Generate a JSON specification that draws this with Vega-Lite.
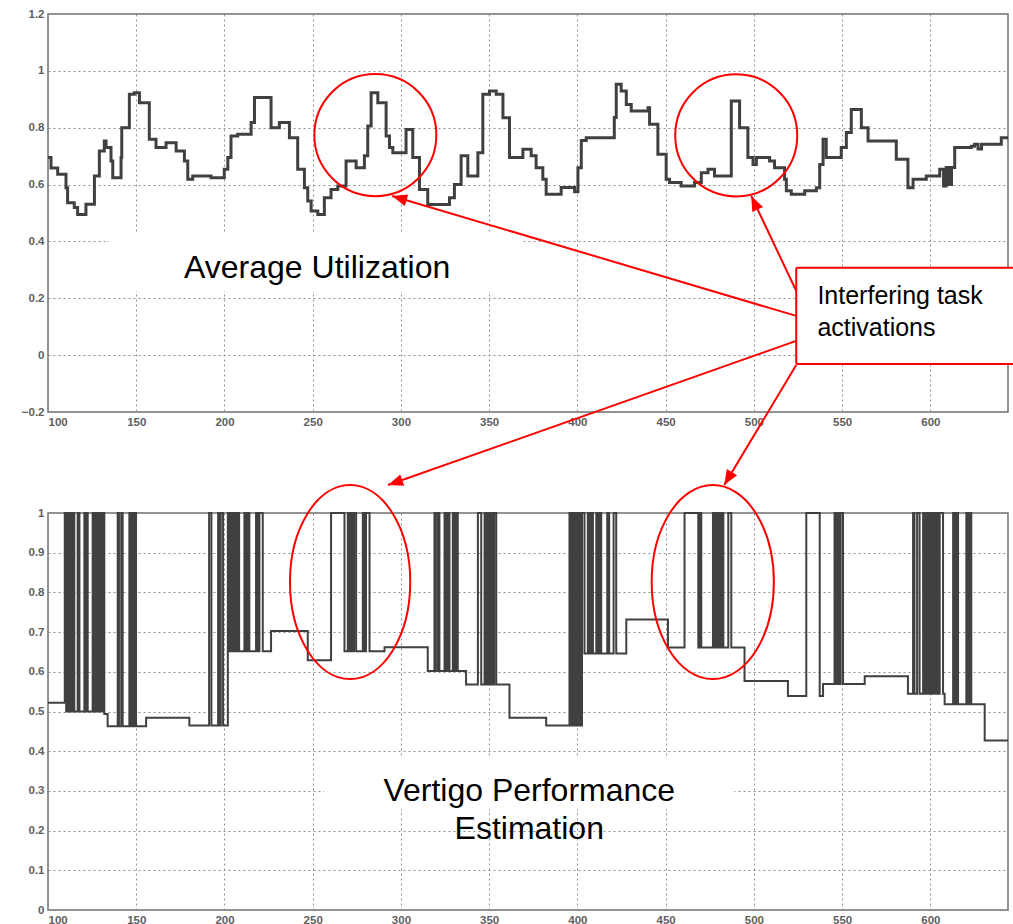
{
  "$schema": "https://vega.github.io/schema/vega-lite/v6.json",
  "background": "white",
  "padding": {"left": 20, "top": 7, "right": 0, "bottom": 0},
  "bounds": "flush",
  "spacing": 101,
  "config": {
    "view": {"stroke": "#707070", "strokeWidth": 1.5},
    "axis": {
      "grid": true,
      "gridColor": "#8f8f8f",
      "gridDash": [2, 3],
      "gridWidth": 1,
      "domain": false,
      "ticks": false,
      "labelPadding": 4,
      "labelOverlap": false,
      "labelFont": "Liberation Sans",
      "labelFontWeight": "bold",
      "labelFontSize": 11.5,
      "labelColor": "#5e5e5e",
      "title": null
    }
  },
  "datasets": {
    "utilization": [
      {"t": 100, "u": 0.695}, {"t": 101.7, "u": 0.658}, {"t": 105.5, "u": 0.636}, {"t": 110.2, "u": 0.589},
      {"t": 111.1, "u": 0.536}, {"t": 114.9, "u": 0.519}, {"t": 116.8, "u": 0.495}, {"t": 121.5, "u": 0.531},
      {"t": 126.3, "u": 0.63}, {"t": 129.1, "u": 0.718}, {"t": 131.9, "u": 0.753}, {"t": 132.9, "u": 0.73},
      {"t": 135.7, "u": 0.683}, {"t": 136.7, "u": 0.624}, {"t": 141.4, "u": 0.695}, {"t": 141.8, "u": 0.8},
      {"t": 146.1, "u": 0.918}, {"t": 148.9, "u": 0.923}, {"t": 151.8, "u": 0.888}, {"t": 157.4, "u": 0.759},
      {"t": 161.2, "u": 0.73}, {"t": 166.9, "u": 0.747}, {"t": 172.6, "u": 0.718}, {"t": 177.3, "u": 0.683},
      {"t": 179.2, "u": 0.619}, {"t": 182.0, "u": 0.63}, {"t": 192.4, "u": 0.624}, {"t": 199.9, "u": 0.654},
      {"t": 201.9, "u": 0.695}, {"t": 203.7, "u": 0.771}, {"t": 207.5, "u": 0.777}, {"t": 215.1, "u": 0.818},
      {"t": 217.0, "u": 0.906}, {"t": 226.4, "u": 0.8}, {"t": 231.1, "u": 0.818}, {"t": 236.8, "u": 0.765},
      {"t": 241.5, "u": 0.654}, {"t": 245.3, "u": 0.589}, {"t": 247.2, "u": 0.542}, {"t": 249.1, "u": 0.507},
      {"t": 252.9, "u": 0.495}, {"t": 256.6, "u": 0.554}, {"t": 260.4, "u": 0.583}, {"t": 264.2, "u": 0.595},
      {"t": 268.9, "u": 0.683}, {"t": 274.6, "u": 0.659}, {"t": 279.3, "u": 0.701}, {"t": 281.2, "u": 0.806},
      {"t": 283.1, "u": 0.923}, {"t": 286.9, "u": 0.888}, {"t": 291.6, "u": 0.771}, {"t": 293.5, "u": 0.73},
      {"t": 295.4, "u": 0.712}, {"t": 302.9, "u": 0.794}, {"t": 306.7, "u": 0.695}, {"t": 310.5, "u": 0.583},
      {"t": 315.2, "u": 0.53}, {"t": 327.5, "u": 0.554}, {"t": 330.3, "u": 0.6}, {"t": 334.1, "u": 0.701},
      {"t": 337.9, "u": 0.63}, {"t": 343.6, "u": 0.712}, {"t": 346.4, "u": 0.918}, {"t": 350.2, "u": 0.929},
      {"t": 354.0, "u": 0.918}, {"t": 357.8, "u": 0.835}, {"t": 361.5, "u": 0.695}, {"t": 369.1, "u": 0.724},
      {"t": 373.8, "u": 0.701}, {"t": 376.6, "u": 0.659}, {"t": 380.4, "u": 0.619}, {"t": 382.3, "u": 0.566},
      {"t": 390.8, "u": 0.59}, {"t": 398.4, "u": 0.575}, {"t": 400.3, "u": 0.659}, {"t": 402.2, "u": 0.755},
      {"t": 405.0, "u": 0.765}, {"t": 420.9, "u": 0.836}, {"t": 422.0, "u": 0.953}, {"t": 424.8, "u": 0.929},
      {"t": 427.7, "u": 0.882}, {"t": 430.5, "u": 0.859}, {"t": 440.0, "u": 0.87}, {"t": 440.9, "u": 0.812},
      {"t": 445.6, "u": 0.707}, {"t": 450.3, "u": 0.619}, {"t": 452.2, "u": 0.607}, {"t": 458.8, "u": 0.595},
      {"t": 466.4, "u": 0.607}, {"t": 470.2, "u": 0.642}, {"t": 474.0, "u": 0.654}, {"t": 477.7, "u": 0.63},
      {"t": 487.2, "u": 0.894}, {"t": 491.9, "u": 0.8}, {"t": 496.6, "u": 0.695}, {"t": 499.5, "u": 0.671},
      {"t": 501.4, "u": 0.695}, {"t": 508.9, "u": 0.683}, {"t": 511.7, "u": 0.659}, {"t": 517.4, "u": 0.619},
      {"t": 518.4, "u": 0.578}, {"t": 521.2, "u": 0.566}, {"t": 528.8, "u": 0.578}, {"t": 535.4, "u": 0.589},
      {"t": 537.3, "u": 0.671}, {"t": 539.2, "u": 0.759}, {"t": 541.0, "u": 0.695}, {"t": 549.5, "u": 0.73},
      {"t": 552.4, "u": 0.783}, {"t": 555.2, "u": 0.864}, {"t": 560.9, "u": 0.8}, {"t": 564.7, "u": 0.753},
      {"t": 580.7, "u": 0.689}, {"t": 587.3, "u": 0.589}, {"t": 590.2, "u": 0.619}, {"t": 597.7, "u": 0.63},
      {"t": 605.3, "u": 0.654}, {"t": 607.5, "u": 0.595}, {"t": 609.0, "u": 0.66}, {"t": 610.5, "u": 0.6},
      {"t": 612.0, "u": 0.66}, {"t": 613.8, "u": 0.73}, {"t": 623.2, "u": 0.735}, {"t": 625.0, "u": 0.742},
      {"t": 627.0, "u": 0.725}, {"t": 629.0, "u": 0.742}, {"t": 640.2, "u": 0.765}, {"t": 644, "u": 0.765}
    ],
    "vertigo": [
      {"t": 100, "v": 0.522},
      {"t": 109.5, "v": 1}, {"t": 110.3, "v": 0.5}, {"t": 111.0, "v": 1}, {"t": 111.6, "v": 0.5},
      {"t": 112.3, "v": 1}, {"t": 113.0, "v": 0.5}, {"t": 113.8, "v": 1}, {"t": 114.9, "v": 0.5},
      {"t": 116.8, "v": 1}, {"t": 117.8, "v": 0.5},
      {"t": 120.6, "v": 1}, {"t": 121.2, "v": 0.5}, {"t": 121.8, "v": 1}, {"t": 122.5, "v": 0.5},
      {"t": 125.3, "v": 1}, {"t": 126.0, "v": 0.5}, {"t": 126.6, "v": 1}, {"t": 127.4, "v": 0.5},
      {"t": 128.0, "v": 1}, {"t": 128.8, "v": 0.5}, {"t": 129.4, "v": 1}, {"t": 130.2, "v": 0.5},
      {"t": 130.8, "v": 1}, {"t": 131.9, "v": 0.494},
      {"t": 133.8, "v": 0.463},
      {"t": 139.5, "v": 1}, {"t": 140.2, "v": 0.463}, {"t": 141.5, "v": 1}, {"t": 142.3, "v": 0.463},
      {"t": 146.1, "v": 1}, {"t": 146.8, "v": 0.463}, {"t": 147.4, "v": 1}, {"t": 148.2, "v": 0.463},
      {"t": 148.8, "v": 1}, {"t": 149.9, "v": 0.463},
      {"t": 155.6, "v": 0.484},
      {"t": 180.1, "v": 0.465},
      {"t": 191.3, "v": 1}, {"t": 192.6, "v": 0.465},
      {"t": 196.4, "v": 1}, {"t": 197.2, "v": 0.465}, {"t": 197.9, "v": 1}, {"t": 199.2, "v": 0.465},
      {"t": 201.9, "v": 1}, {"t": 202.8, "v": 0.652}, {"t": 203.6, "v": 1}, {"t": 204.5, "v": 0.652},
      {"t": 205.6, "v": 1}, {"t": 206.5, "v": 0.652}, {"t": 207.3, "v": 1}, {"t": 208.3, "v": 0.652},
      {"t": 211.3, "v": 1}, {"t": 212.2, "v": 0.652}, {"t": 213.0, "v": 1}, {"t": 214.1, "v": 0.652},
      {"t": 217.9, "v": 1}, {"t": 218.8, "v": 0.652}, {"t": 219.8, "v": 1}, {"t": 221.7, "v": 0.652},
      {"t": 226.4, "v": 0.703},
      {"t": 247.2, "v": 0.629},
      {"t": 260.4, "v": 1}, {"t": 268.0, "v": 0.652},
      {"t": 269.9, "v": 1}, {"t": 270.8, "v": 0.652}, {"t": 271.6, "v": 1}, {"t": 272.5, "v": 0.652},
      {"t": 273.4, "v": 1}, {"t": 274.6, "v": 0.652}, {"t": 278.4, "v": 1}, {"t": 279.4, "v": 0.652},
      {"t": 280.2, "v": 1}, {"t": 282.2, "v": 0.652},
      {"t": 290.7, "v": 0.662},
      {"t": 315.2, "v": 0.602},
      {"t": 319.0, "v": 1}, {"t": 319.8, "v": 0.602}, {"t": 321.0, "v": 1}, {"t": 321.8, "v": 0.602},
      {"t": 324.7, "v": 1}, {"t": 325.5, "v": 0.602}, {"t": 326.6, "v": 1}, {"t": 327.5, "v": 0.602},
      {"t": 329.4, "v": 1}, {"t": 330.2, "v": 0.602}, {"t": 331.2, "v": 1}, {"t": 332.2, "v": 0.602},
      {"t": 336.9, "v": 0.568},
      {"t": 343.6, "v": 1}, {"t": 345.5, "v": 0.568}, {"t": 347.4, "v": 1}, {"t": 348.5, "v": 0.568},
      {"t": 349.2, "v": 1}, {"t": 350.3, "v": 0.568}, {"t": 351.0, "v": 1}, {"t": 352.0, "v": 0.568},
      {"t": 352.8, "v": 1}, {"t": 354.0, "v": 0.568},
      {"t": 361.5, "v": 0.484},
      {"t": 382.3, "v": 0.465},
      {"t": 395.5, "v": 1}, {"t": 396.5, "v": 0.465}, {"t": 397.2, "v": 1}, {"t": 398.2, "v": 0.465},
      {"t": 398.9, "v": 1}, {"t": 400.0, "v": 0.465}, {"t": 400.8, "v": 1}, {"t": 401.8, "v": 0.465},
      {"t": 402.6, "v": 1}, {"t": 404.0, "v": 0.646},
      {"t": 405.9, "v": 1}, {"t": 407.0, "v": 0.646}, {"t": 408.0, "v": 1}, {"t": 408.8, "v": 0.646},
      {"t": 410.7, "v": 1}, {"t": 411.5, "v": 0.646}, {"t": 412.5, "v": 1}, {"t": 413.5, "v": 0.646},
      {"t": 416.9, "v": 1}, {"t": 418.0, "v": 0.646}, {"t": 420.5, "v": 1}, {"t": 422.0, "v": 0.646},
      {"t": 427.7, "v": 0.732},
      {"t": 451.3, "v": 0.661},
      {"t": 460.7, "v": 1}, {"t": 468.5, "v": 0.661}, {"t": 469.4, "v": 1}, {"t": 470.2, "v": 0.661},
      {"t": 476.8, "v": 1}, {"t": 477.6, "v": 0.661}, {"t": 478.4, "v": 1}, {"t": 479.2, "v": 0.661},
      {"t": 480.0, "v": 1}, {"t": 480.8, "v": 0.661}, {"t": 481.6, "v": 1}, {"t": 482.7, "v": 0.661},
      {"t": 485.5, "v": 1}, {"t": 487.2, "v": 0.661},
      {"t": 494.7, "v": 0.577},
      {"t": 519.3, "v": 0.539},
      {"t": 529.7, "v": 1}, {"t": 537.3, "v": 0.539},
      {"t": 539.2, "v": 0.569},
      {"t": 545.7, "v": 1}, {"t": 546.6, "v": 0.569}, {"t": 547.3, "v": 1}, {"t": 548.3, "v": 0.569},
      {"t": 549.2, "v": 1}, {"t": 550.5, "v": 0.569},
      {"t": 562.8, "v": 0.589},
      {"t": 587.3, "v": 0.545},
      {"t": 590.2, "v": 1}, {"t": 591.0, "v": 0.545}, {"t": 592.5, "v": 1}, {"t": 593.9, "v": 0.545},
      {"t": 595.9, "v": 1}, {"t": 596.8, "v": 0.545}, {"t": 597.7, "v": 1}, {"t": 598.6, "v": 0.545},
      {"t": 599.6, "v": 1}, {"t": 600.6, "v": 0.545}, {"t": 601.5, "v": 1}, {"t": 602.5, "v": 0.545},
      {"t": 603.5, "v": 1}, {"t": 604.4, "v": 0.545}, {"t": 605.3, "v": 1}, {"t": 607.2, "v": 0.545},
      {"t": 608.1, "v": 0.518},
      {"t": 612.9, "v": 1}, {"t": 613.8, "v": 0.518}, {"t": 614.7, "v": 1}, {"t": 615.7, "v": 0.518},
      {"t": 620.4, "v": 1}, {"t": 621.4, "v": 0.518}, {"t": 622.2, "v": 1}, {"t": 623.2, "v": 0.518},
      {"t": 630.8, "v": 0.427},
      {"t": 644, "v": 0.427}
    ]
  },
  "vconcat": [
    {
      "width": 960,
      "height": 398,
      "layer": [
        {
          "data": {"name": "utilization"},
          "mark": {"type": "line", "interpolate": "step-after", "stroke": "#404040", "strokeWidth": 3},
          "encoding": {
            "x": {
              "field": "t", "type": "quantitative",
              "scale": {"domain": [100, 644], "nice": false, "zero": false},
              "axis": {"values": [100, 150, 200, 250, 300, 350, 400, 450, 500, 550, 600], "labelOverlap": false}
            },
            "y": {
              "field": "u", "type": "quantitative",
              "scale": {"domain": [-0.2, 1.2], "nice": false, "zero": false},
              "axis": {"values": [-0.2, 0, 0.2, 0.4, 0.6, 0.8, 1, 1.2], "format": "~g", "labelOverlap": false}
            }
          }
        },
        {
          "data": {"values": [{}]},
          "mark": {"type": "rect", "fill": "white"},
          "encoding": {"x": {"datum": 134.6}, "x2": {"datum": 369.3}, "y": {"datum": 0.426}, "y2": {"datum": 0.226}}
        },
        {
          "data": {"values": [{}]},
          "mark": {"type": "text", "text": "Average Utilization", "font": "Liberation Sans", "fontSize": 32, "align": "left", "baseline": "alphabetic", "fill": "black"},
          "encoding": {"x": {"datum": 177.1}, "y": {"datum": 0.271}}
        },
        {
          "data": {"values": [{}]},
          "mark": {"type": "point", "shape": "circle", "size": 14884, "filled": false, "stroke": "#ff0000", "strokeWidth": 2, "opacity": 1},
          "encoding": {"x": {"datum": 285.5}, "y": {"datum": 0.774}}
        },
        {
          "data": {"values": [{}]},
          "mark": {"type": "point", "shape": "circle", "size": 14884, "filled": false, "stroke": "#ff0000", "strokeWidth": 2, "opacity": 1},
          "encoding": {"x": {"datum": 490.0}, "y": {"datum": 0.773}}
        },
        {
          "data": {"values": [{}]},
          "mark": {"type": "rect", "fill": "white"},
          "encoding": {"x": {"datum": 524.0}, "x2": {"datum": 647.6}, "y": {"datum": 0.307}, "y2": {"datum": -0.031}}
        },
        {
          "data": {"values": [{}]},
          "mark": {"type": "rule", "stroke": "#ff0000", "strokeWidth": 2},
          "encoding": {"x": {"datum": 524.0}, "x2": {"datum": 647.6}, "y": {"datum": 0.307}}
        },
        {
          "data": {"values": [{}]},
          "mark": {"type": "rule", "stroke": "#ff0000", "strokeWidth": 2},
          "encoding": {"x": {"datum": 524.0}, "x2": {"datum": 647.6}, "y": {"datum": -0.031}}
        },
        {
          "data": {"values": [{}]},
          "mark": {"type": "rule", "stroke": "#ff0000", "strokeWidth": 2},
          "encoding": {"x": {"datum": 524.0}, "y": {"datum": 0.307}, "y2": {"datum": -0.031}}
        },
        {
          "data": {"values": [{}]},
          "mark": {"type": "text", "text": "Interfering task", "font": "Liberation Sans", "fontSize": 25, "align": "left", "baseline": "alphabetic", "fill": "black"},
          "encoding": {"x": {"datum": 536.0}, "y": {"datum": 0.18}}
        },
        {
          "data": {"values": [{}]},
          "mark": {"type": "text", "text": "activations", "font": "Liberation Sans", "fontSize": 25, "align": "left", "baseline": "alphabetic", "fill": "black"},
          "encoding": {"x": {"datum": 536.0}, "y": {"datum": 0.067}}
        },
        {
          "data": {"values": [{}]},
          "mark": {"type": "rule", "stroke": "#ff0000", "strokeWidth": 2},
          "encoding": {"x": {"datum": 524.0}, "y": {"datum": 0.138}, "x2": {"datum": 295.0}, "y2": {"datum": 0.56}}
        },
        {
          "data": {"values": [{}]},
          "mark": {"type": "point", "shape": "M0,0L-0.6,1.5L0.6,1.5Z", "size": 400, "filled": true, "fill": "#ff0000", "strokeWidth": 0, "opacity": 1, "angle": 286.5},
          "encoding": {"x": {"datum": 295.0}, "y": {"datum": 0.56}}
        },
        {
          "data": {"values": [{}]},
          "mark": {"type": "rule", "stroke": "#ff0000", "strokeWidth": 2},
          "encoding": {"x": {"datum": 524.0}, "y": {"datum": 0.226}, "x2": {"datum": 498.5}, "y2": {"datum": 0.56}}
        },
        {
          "data": {"values": [{}]},
          "mark": {"type": "point", "shape": "M0,0L-0.6,1.5L0.6,1.5Z", "size": 400, "filled": true, "fill": "#ff0000", "strokeWidth": 0, "opacity": 1, "angle": 334.7},
          "encoding": {"x": {"datum": 498.5}, "y": {"datum": 0.56}}
        },
        {
          "data": {"values": [{}]},
          "mark": {"type": "rule", "stroke": "#ff0000", "strokeWidth": 2},
          "encoding": {"x": {"datum": 524.0}, "y": {"datum": 0.05}, "x2": {"datum": 292.7}, "y2": {"datum": -0.457}}
        },
        {
          "data": {"values": [{}]},
          "mark": {"type": "point", "shape": "M0,0L-0.6,1.5L0.6,1.5Z", "size": 400, "filled": true, "fill": "#ff0000", "strokeWidth": 0, "opacity": 1, "angle": 250.6},
          "encoding": {"x": {"datum": 292.7}, "y": {"datum": -0.457}}
        },
        {
          "data": {"values": [{}]},
          "mark": {"type": "rule", "stroke": "#ff0000", "strokeWidth": 2},
          "encoding": {"x": {"datum": 524.0}, "y": {"datum": -0.035}, "x2": {"datum": 483.2}, "y2": {"datum": -0.457}}
        },
        {
          "data": {"values": [{}]},
          "mark": {"type": "point", "shape": "M0,0L-0.6,1.5L0.6,1.5Z", "size": 400, "filled": true, "fill": "#ff0000", "strokeWidth": 0, "opacity": 1, "angle": 211},
          "encoding": {"x": {"datum": 483.2}, "y": {"datum": -0.457}}
        }
      ]
    },
    {
      "width": 960,
      "height": 397,
      "layer": [
        {
          "data": {"name": "vertigo"},
          "mark": {"type": "line", "interpolate": "step-after", "stroke": "#404040", "strokeWidth": 2},
          "encoding": {
            "x": {
              "field": "t", "type": "quantitative",
              "scale": {"domain": [100, 644], "nice": false, "zero": false},
              "axis": {"values": [100, 150, 200, 250, 300, 350, 400, 450, 500, 550, 600], "labelOverlap": false}
            },
            "y": {
              "field": "v", "type": "quantitative",
              "scale": {"domain": [0, 1], "nice": false, "zero": false},
              "axis": {"values": [0, 0.1, 0.2, 0.3, 0.4, 0.5, 0.6, 0.7, 0.8, 0.9, 1], "format": "~g", "labelOverlap": false, "tickCount": 11}
            }
          }
        },
        {
          "data": {"values": [{}]},
          "mark": {"type": "rect", "fill": "white"},
          "encoding": {"x": {"datum": 256.5}, "x2": {"datum": 488.9}, "y": {"datum": 0.383}, "y2": {"datum": 0.254}}
        },
        {
          "data": {"values": [{}]},
          "mark": {"type": "text", "text": "Vertigo Performance", "font": "Liberation Sans", "fontSize": 32, "align": "center", "baseline": "alphabetic", "fill": "black"},
          "encoding": {"x": {"datum": 372.7}, "y": {"datum": 0.275}}
        },
        {
          "data": {"values": [{}]},
          "mark": {"type": "text", "text": "Estimation", "font": "Liberation Sans", "fontSize": 32, "align": "center", "baseline": "alphabetic", "fill": "black"},
          "encoding": {"x": {"datum": 372.7}, "y": {"datum": 0.179}}
        },
        {
          "data": {"values": [{}]},
          "mark": {"type": "point", "shape": "M0.62,0C0.62,0.5523,0.3424,1,0,1C-0.3424,1,-0.62,0.5523,-0.62,0C-0.62,-0.5523,-0.3424,-1,0,-1C0.3424,-1,0.62,-0.5523,0.62,0Z", "size": 37636, "filled": false, "stroke": "#ff0000", "strokeWidth": 2, "opacity": 1},
          "encoding": {"x": {"datum": 271.2}, "y": {"datum": 0.826}}
        },
        {
          "data": {"values": [{}]},
          "mark": {"type": "point", "shape": "M0.63,0C0.63,0.5523,0.348,1,0,1C-0.348,1,-0.63,0.5523,-0.63,0C-0.63,-0.5523,-0.348,-1,0,-1C0.348,-1,0.63,-0.5523,0.63,0Z", "size": 37636, "filled": false, "stroke": "#ff0000", "strokeWidth": 2, "opacity": 1},
          "encoding": {"x": {"datum": 476.7}, "y": {"datum": 0.826}}
        }
      ]
    }
  ]
}
